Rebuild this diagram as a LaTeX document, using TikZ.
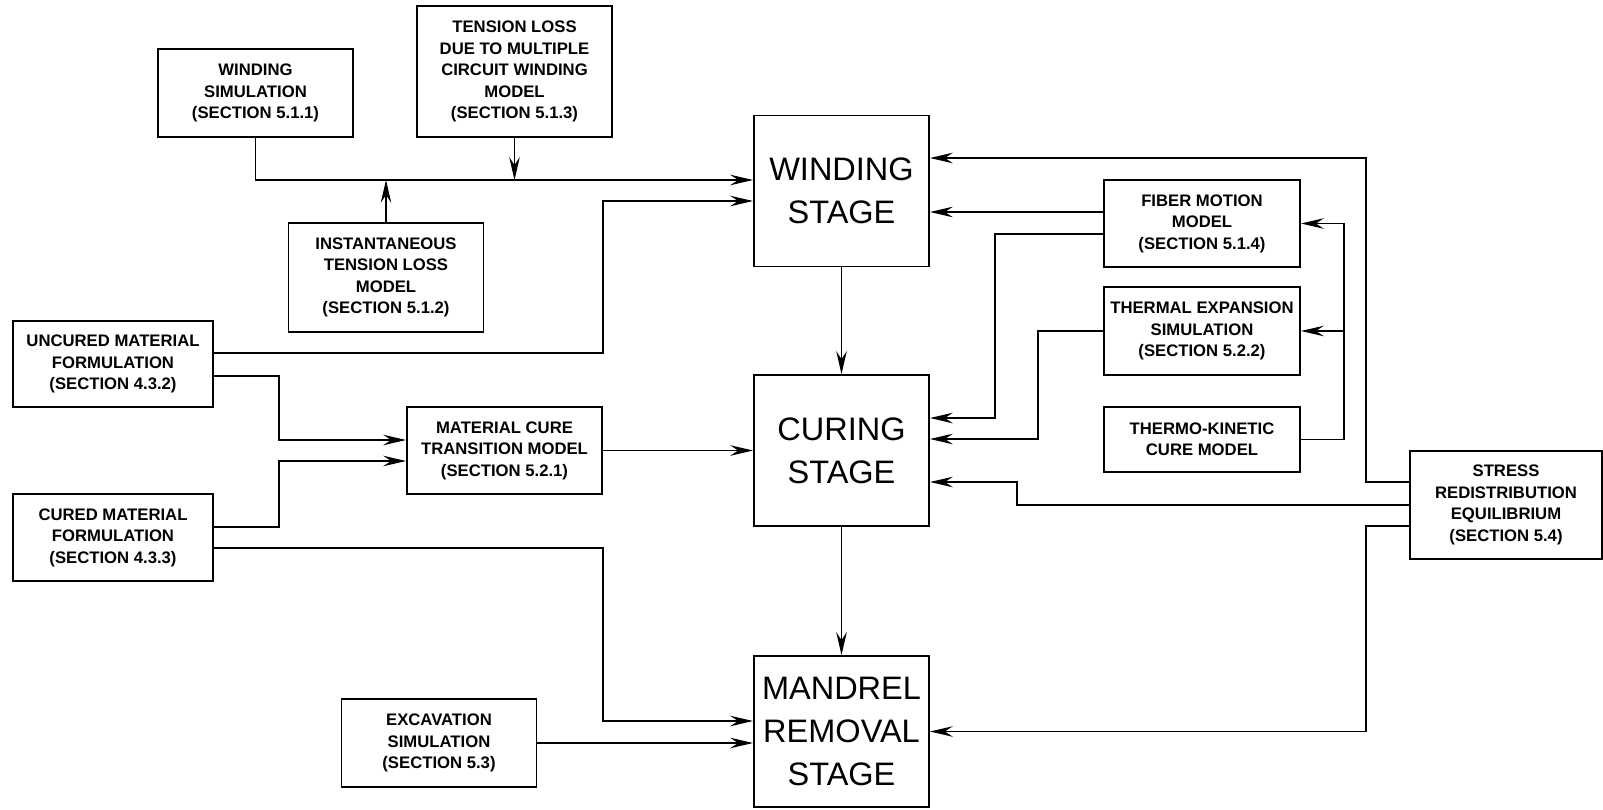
\documentclass[tikz,border=0pt]{standalone}
\usepackage{fontspec}
\setmainfont{Liberation Sans}
\usetikzlibrary{arrows.meta,positioning}

\begin{document}
\begin{tikzpicture}[
    x=0.02cm, y=-0.02cm,
    box/.style={draw, line width=1.1pt, inner sep=0pt, minimum width=3.9cm, align=center, font=\fontsize{9.5}{12.2}\selectfont\bfseries},
    stage/.style={draw, line width=1.1pt, inner sep=0pt, minimum width=3.5cm, minimum height=3.02cm, align=center, font=\fontsize{18.5}{24.4}\selectfont},
    arrow/.style={-{Stealth[length=13pt, width=6pt, inset=4.5pt]}, line width=1pt},
  ]
  \useasboundingbox (0,0) rectangle (1603,809);
  % stages
  \node[stage] (wstage) at (841.5,191) {WINDING\\STAGE};
  \node[stage] (cstage) at (841.5,450.5) {CURING\\STAGE};
  \node[stage] (mstage) at (841.5,731.5) {MANDREL\\REMOVAL\\STAGE};
  % left side
  \node[box, minimum height=1.76cm] (wsim) at (255.5,93) {WINDING\\SIMULATION\\(SECTION 5.1.1)};
  \node[box, minimum height=2.62cm] (tloss) at (514.5,71.5) {TENSION LOSS\\DUE TO MULTIPLE\\CIRCUIT WINDING\\MODEL\\(SECTION 5.1.3)};
  \node[box, minimum height=2.18cm] (itloss) at (386,277.5) {INSTANTANEOUS\\TENSION LOSS\\MODEL\\(SECTION 5.1.2)};
  \node[box, minimum width=4cm, minimum height=1.72cm] (uncured) at (113,364) {UNCURED MATERIAL\\FORMULATION\\(SECTION 4.3.2)};
  \node[box, minimum height=1.74cm] (matcure) at (504.5,450.5) {MATERIAL CURE\\TRANSITION MODEL\\(SECTION 5.2.1)};
  \node[box, minimum width=4cm, minimum height=1.74cm] (cured) at (113,537.5) {CURED MATERIAL\\FORMULATION\\(SECTION 4.3.3)};
  \node[box, minimum height=1.76cm] (excav) at (439,743) {EXCAVATION\\SIMULATION\\(SECTION 5.3)};
  % right side
  \node[box, minimum width=3.92cm, minimum height=1.74cm] (fiber) at (1202,223.5) {FIBER MOTION\\MODEL\\(SECTION 5.1.4)};
  \node[box, minimum width=3.92cm, minimum height=1.76cm] (thexp) at (1202,331) {THERMAL EXPANSION\\SIMULATION\\(SECTION 5.2.2)};
  \node[box, minimum width=3.92cm, minimum height=1.3cm] (thkin) at (1202,439.5) {THERMO-KINETIC\\CURE MODEL};
  \node[box, minimum width=3.84cm, minimum height=2.16cm] (stress) at (1506,505) {STRESS\\REDISTRIBUTION\\EQUILIBRIUM\\(SECTION 5.4)};
  % entry points and line columns
  \coordinate (win1) at ([yshift=0.22cm]wstage.west);
  \coordinate (win2) at ([yshift=-0.20cm]wstage.west);
  \coordinate (win3) at ([yshift=0.66cm]wstage.east);
  \coordinate (win4) at ([yshift=-0.42cm]wstage.east);
  \coordinate (cin1) at ([yshift=0.65cm]cstage.east);
  \coordinate (cin2) at ([yshift=0.23cm]cstage.east);
  \coordinate (cin3) at ([yshift=-0.63cm]cstage.east);
  \coordinate (min1) at ([yshift=0.21cm]mstage.west);
  \coordinate (mcin1) at ([yshift=0.21cm]matcure.west);
  \coordinate (mcin2) at ([yshift=-0.21cm]matcure.west);
  \coordinate (colA) at (279,0);
  \coordinate (colB) at (995,0);
  \coordinate (colC) at (1038,0);
  \coordinate (colF) at (1017,0);
  \coordinate (colD) at (1344,0);
  \coordinate (colE) at (1366,0);
  % winding stage inputs
  \draw[arrow] (wsim.south) |- (win1);
  \draw[arrow] (tloss.south) -- (tloss.south |- win1);
  \draw[arrow] (itloss.north) -- (itloss.north |- win1);
  \draw[arrow] ([yshift=0.22cm]uncured.east) -| (matcure.east |- win2) -- (win2);
  \draw[arrow] ([yshift=0.23cm]fiber.west) -- (win4);
  \draw[arrow] ([yshift=0.46cm]stress.west) -| (colE |- win3) -- (win3);
  % material cure
  \draw[arrow] ([yshift=-0.24cm]uncured.east) -| (colA |- mcin1) -- (mcin1);
  \draw[arrow] ([yshift=0.21cm]cured.east) -| (colA |- mcin2) -- (mcin2);
  % curing stage inputs
  \draw[arrow] (matcure.east) -- (matcure.east -| cstage.west);
  \draw[arrow] ([yshift=-0.21cm]fiber.west) -| (colB |- cin1) -- (cin1);
  \draw[arrow] (thexp.west) -| (colC |- cin2) -- (cin2);
  \draw[arrow] (stress.west) -| (colF |- cin3) -- (cin3);
  % thermo-kinetic feeds
  \draw[arrow] (thkin.east) -| (colD |- fiber.east) -- (fiber.east);
  \draw[arrow] (colD |- thexp.east) -- (thexp.east);
  % mandrel removal inputs
  \draw[arrow] ([yshift=-0.21cm]cured.east) -| (matcure.east |- min1) -- (min1);
  \draw[arrow] (excav.east) -- (excav.east -| mstage.west);
  \draw[arrow] ([yshift=-0.42cm]stress.west) -| (colE |- mstage.east) -- (mstage.east);
  % stage sequence
  \draw[arrow] (wstage) -- (cstage);
  \draw[arrow] (cstage) -- (mstage);
\end{tikzpicture}
\end{document}
